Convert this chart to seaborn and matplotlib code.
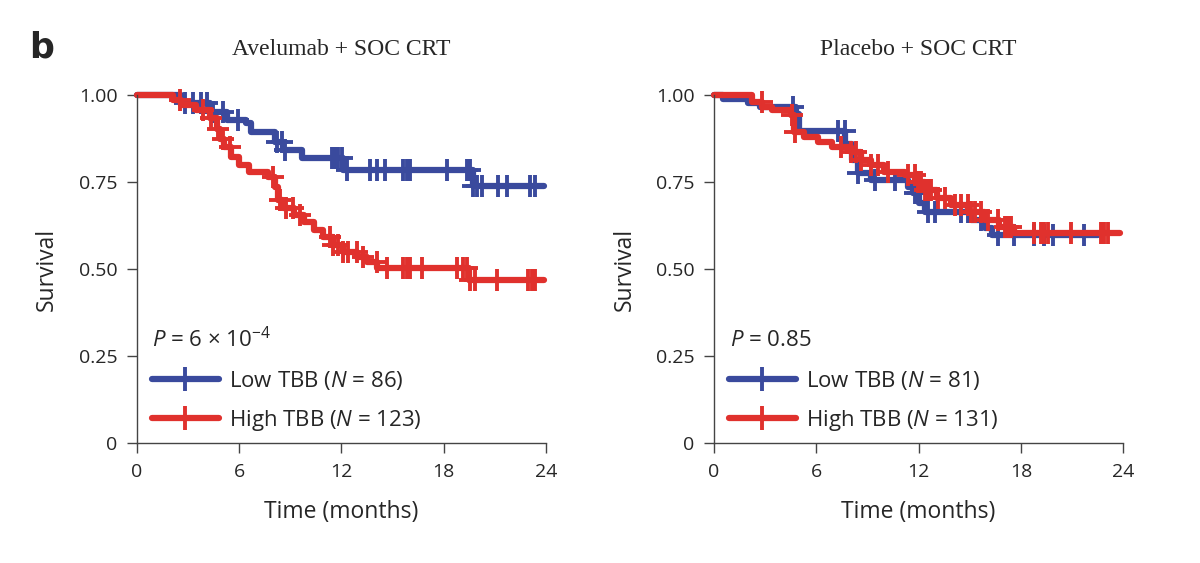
import numpy as np
import pandas as pd
import matplotlib
matplotlib.use('Agg')
import matplotlib.pyplot as plt
import seaborn as sns

sns.set_style('ticks')
plt.rcParams['font.family'] = ['Open Sans', 'DejaVu Sans']
plt.rcParams['mathtext.fontset'] = 'custom'
plt.rcParams['mathtext.rm'] = 'Open Sans'
plt.rcParams['mathtext.it'] = 'Open Sans:italic'

# --- data ---
# Avelumab + SOC CRT
av_low_t = [0, 2.6, 4.3, 5.3, 6.4, 6.7, 8.1, 8.6, 9.7, 12.1, 19.7, 23.9]
av_low_s = [1.0, 0.977, 0.952, 0.93, 0.919, 0.895, 0.866, 0.842, 0.818, 0.784, 0.738, 0.738]
av_low_cens = [2.82, 3.30, 3.79, 4.09, 4.48, 5.07, 5.95, 8.2, 8.49, 8.68, 11.42, 11.62, 11.81,
               12.01, 12.3, 13.67, 14.06, 14.55, 15.63, 15.82, 16.02, 18.17, 19.34, 19.54,
               19.74, 19.93, 20.23, 21.2, 21.69, 23.06, 23.35]

av_high_t = [0, 2.1, 2.6, 3.5, 4.3, 4.7, 4.9, 5.1, 5.5, 6.0, 6.6, 7.7, 8.1, 8.3, 8.6, 9.2,
             9.8, 10.4, 10.9, 11.5, 12.1, 12.9, 13.5, 14.1, 19.5, 23.9]
av_high_s = [1.0, 0.986, 0.971, 0.957, 0.933, 0.904, 0.875, 0.851, 0.823, 0.80, 0.78, 0.765,
             0.737, 0.698, 0.675, 0.655, 0.636, 0.612, 0.593, 0.569, 0.55, 0.535, 0.521,
             0.502, 0.468, 0.468]
av_high_cens = [2.52, 3.89, 4.38, 4.77, 5.07, 5.46, 8.0, 8.39, 8.78, 9.17, 9.56, 11.33, 11.52,
                11.81, 12.11, 12.4, 12.89, 13.28, 14.06, 14.65, 15.63, 15.82, 16.02, 16.7,
                18.76, 19.15, 19.34, 19.54, 19.83, 21.1, 22.96, 23.16, 23.35]

# Placebo + SOC CRT
pl_low_t = [0, 0.5, 2.0, 2.7, 4.8, 5.0, 7.7, 8.1, 8.45, 9.2, 11.4, 11.7, 12.0, 12.35,
            15.1, 15.9, 16.3, 22.5]
pl_low_s = [1.0, 0.988, 0.976, 0.965, 0.947, 0.898, 0.861, 0.813, 0.775, 0.756, 0.735,
            0.718, 0.689, 0.665, 0.641, 0.617, 0.597, 0.597]
pl_low_cens = [4.64, 7.28, 7.67, 8.45, 9.43, 10.6, 11.77, 11.96, 12.55, 12.94, 14.5, 14.89,
               15.67, 16.64, 17.62, 18.79, 19.38, 19.86, 21.72]

pl_high_t = [0, 2.2, 2.8, 3.4, 4.5, 4.7, 5.3, 6.1, 6.9, 8.06, 8.6, 9.2, 10.0, 11.2, 11.8,
             12.35, 13.1, 13.9, 14.9, 15.9, 16.7, 17.6, 23.8]
pl_high_s = [1.0, 0.981, 0.967, 0.957, 0.943, 0.895, 0.88, 0.866, 0.851, 0.837, 0.813, 0.80,
             0.78, 0.77, 0.75, 0.727, 0.703, 0.684, 0.665, 0.641, 0.621, 0.603, 0.603]
pl_high_cens = [2.79, 4.55, 4.74, 7.47, 8.06, 8.35, 8.64, 9.23, 9.62, 10.2, 11.38, 11.77,
                11.96, 12.16, 12.35, 12.55, 12.74, 13.13, 13.52, 14.11, 14.5, 14.89, 15.08,
                15.28, 15.67, 16.06, 16.64, 17.04, 17.23, 17.43, 18.79, 19.18, 19.38, 19.57,
                20.94, 22.7, 22.89, 23.08]

titles = ['Avelumab + SOC CRT', 'Placebo + SOC CRT']
p_texts = [r'$\it{P}$ = 6 × 10$^{-4}$', r'$\it{P}$ = 0.85']
low_labels = [r'Low TBB ($\it{N}$ = 86)', r'Low TBB ($\it{N}$ = 81)']
high_labels = [r'High TBB ($\it{N}$ = 123)', r'High TBB ($\it{N}$ = 131)']

BLUE = '#3a4a9d'
RED = '#e0312d'

panels = [
    [(av_low_t, av_low_s, av_low_cens, BLUE), (av_high_t, av_high_s, av_high_cens, RED)],
    [(pl_low_t, pl_low_s, pl_low_cens, BLUE), (pl_high_t, pl_high_s, pl_high_cens, RED)],
]


def surv_at(times, surv, c):
    # value of the step curve at censor time c
    idx = np.searchsorted(times, c, side='right') - 1
    return np.asarray(surv)[idx]


fig = plt.figure(figsize=(12, 5.63), dpi=100)
ax_left = [0.114, 0.595]

for i in range(2):
    ax = fig.add_axes([ax_left[i], 0.213, 0.341, 0.618])
    for times, surv, cens, col in panels[i]:
        df = pd.DataFrame({'time': times, 'surv': surv})
        sns.lineplot(data=df, x='time', y='surv', drawstyle='steps-post', color=col,
                     linewidth=4.5, estimator=None, ax=ax, clip_on=False)
        cy = surv_at(times, surv, cens)
        ax.plot(cens, cy, linestyle='none', marker='+', markersize=16,
                markeredgewidth=2.8, color=col, clip_on=False)

    # legend proxies: line with a censor mark
    lg_low, = ax.plot([], [], color=BLUE, linewidth=4.5, marker='+', markersize=17,
                      markeredgewidth=2.8)
    lg_high, = ax.plot([], [], color=RED, linewidth=4.5, marker='+', markersize=17,
                       markeredgewidth=2.8)
    ax.legend([lg_low, lg_high], [low_labels[i], high_labels[i]], loc='lower left',
              bbox_to_anchor=(0.037, 0.03), frameon=False, fontsize=16,
              handlelength=3.0, handletextpad=0.45, labelspacing=0.72,
              borderaxespad=0, borderpad=0)
    ax.text(0.038, 0.296, p_texts[i], transform=ax.transAxes, fontsize=16, va='center')

    ax.set_xlim(0, 24)
    ax.set_ylim(0, 1)
    ax.set_xticks([0, 6, 12, 18, 24])
    ax.set_yticks([0, 0.25, 0.5, 0.75, 1.0])
    ax.set_yticklabels(['0', '0.25', '0.50', '0.75', '1.00'])
    ax.tick_params(labelsize=14, length=7, width=1, color='#444444', pad=7)
    ax.set_xlabel('Time (months)', fontsize=16.5, labelpad=14)
    ax.set_ylabel('Survival', fontsize=16.5, labelpad=14)
    ax.set_title(titles[i], fontsize=17, family='Liberation Serif', pad=29)
    sns.despine(ax=ax)
    for sp in ['left', 'bottom']:
        ax.spines[sp].set_color('#444444')
        ax.spines[sp].set_linewidth(1)

fig.text(0.024, 0.915, 'b', fontsize=25, fontweight='bold', family='DejaVu Sans', va='center')

fig.savefig('out.png', dpi=100)
